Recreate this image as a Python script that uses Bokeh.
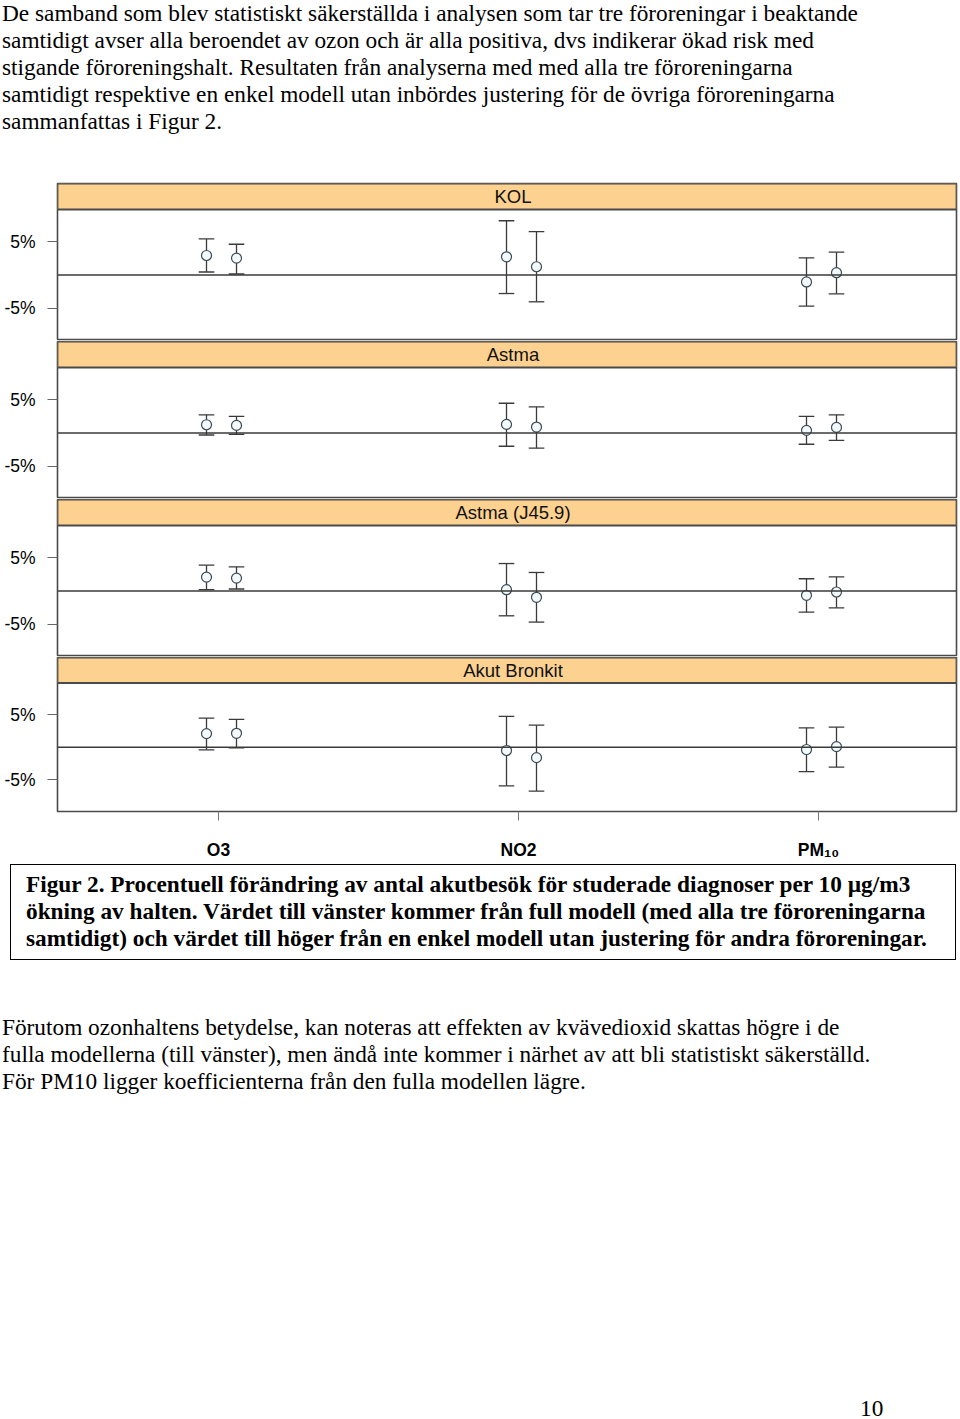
from bokeh.plotting import figure
from bokeh.models import ColumnDataSource, FixedTicker, Span, Div, Range1d
from bokeh.layouts import column
from bokeh.core.properties import value
from bokeh.embed import file_html
from bokeh.resources import INLINE

# ---------------- data ----------------
categories = ["O3", "NO2", "PM10"]
cat_labels = {1: "O3", 2: "NO2", 3: "PM\u2081\u2080"}
diagnoses = ["KOL", "Astma", "Astma (J45.9)", "Akut Bronkit"]

# full model (left point) : estimate, lower, upper  (% per 10 ug/m3)
kol_full_est = [2.95, 2.75, -1.05]
kol_full_lo = [0.45, -2.8, -4.7]
kol_full_hi = [5.45, 8.2, 2.6]
kol_simple_est = [2.55, 1.25, 0.35]
kol_simple_lo = [0.15, -4.05, -2.85]
kol_simple_hi = [4.65, 6.55, 3.45]

astma_full_est = [1.25, 1.3, 0.4]
astma_full_lo = [-0.3, -2.0, -1.7]
astma_full_hi = [2.75, 4.5, 2.5]
astma_simple_est = [1.15, 0.9, 0.85]
astma_simple_lo = [-0.2, -2.3, -1.1]
astma_simple_hi = [2.5, 3.95, 2.75]

j459_full_est = [2.1, 0.2, -0.65]
j459_full_lo = [0.2, -3.75, -3.2]
j459_full_hi = [3.9, 4.15, 1.85]
j459_simple_est = [1.95, -0.95, -0.15]
j459_simple_lo = [0.3, -4.7, -2.55]
j459_simple_hi = [3.65, 2.8, 2.15]

bronk_full_est = [2.1, -0.5, -0.35]
bronk_full_lo = [-0.4, -5.95, -3.75]
bronk_full_hi = [4.5, 4.75, 3.0]
bronk_simple_est = [2.15, -1.6, 0.1]
bronk_simple_lo = [-0.1, -6.75, -3.05]
bronk_simple_hi = [4.3, 3.4, 3.1]

panels = [
    ("KOL", kol_full_est, kol_full_lo, kol_full_hi, kol_simple_est, kol_simple_lo, kol_simple_hi),
    ("Astma", astma_full_est, astma_full_lo, astma_full_hi, astma_simple_est, astma_simple_lo, astma_simple_hi),
    ("Astma (J45.9)", j459_full_est, j459_full_lo, j459_full_hi, j459_simple_est, j459_simple_lo, j459_simple_hi),
    ("Akut Bronkit", bronk_full_est, bronk_full_lo, bronk_full_hi, bronk_simple_est, bronk_simple_lo, bronk_simple_hi),
]

top_text = ("De samband som blev statistiskt säkerställda i analysen som tar tre föroreningar i beaktande<br>"
            "samtidigt avser alla beroendet av ozon och är alla positiva, dvs indikerar ökad risk med<br>"
            "stigande föroreningshalt. Resultaten från analyserna med med alla tre föroreningarna<br>"
            "samtidigt respektive en enkel modell utan inbördes justering för de övriga föroreningarna<br>"
            "sammanfattas i Figur 2.")
caption_text = ("Figur 2. Procentuell förändring av antal akutbesök för studerade diagnoser per 10 µg/m3<br>"
                "ökning av halten. Värdet till vänster kommer från full modell (med alla tre föroreningarna<br>"
                "samtidigt) och värdet till höger från en enkel modell utan justering för andra föroreningar.")
bottom_text = ("Förutom ozonhaltens betydelse, kan noteras att effekten av kvävedioxid skattas högre i de<br>"
               "fulla modellerna (till vänster), men ändå inte kommer i närhet av att bli statistiskt säkerställd.<br>"
               "För PM10 ligger koefficienterna från den fulla modellen lägre.")
page_number = "10"

# ---------------- styling / layout constants ----------------
SANS = "Liberation Sans"
SERIF = "Liberation Serif"
BODY_PX = "23.3px"
X0, X1 = 0.4633, 3.46
OFF_FULL, OFF_SIMPLE = -0.04, 0.06
CAP = 0.026
Y_LO, Y_HI = -9.9, 9.9
DATA_PX = 131.0
STRIP_PX = 26.0
STRIP_TOP = Y_HI + STRIP_PX * (Y_HI - Y_LO) / DATA_PX
STRIP_FILL = "#FDD190"
EDGE = "#4a4a4a"
LINE = "#3a3a3a"

base_x = [1, 2, 3]

figs = []
for i, (name, fe, fl, fh, se, sl, sh) in enumerate(panels):
    last = i == len(panels) - 1
    h = 206 if last else 158
    p = figure(width=960, height=h, output_backend="svg", toolbar_location=None,
               x_range=Range1d(X0, X1), y_range=Range1d(Y_LO, STRIP_TOP),
               x_axis_location="below" if last else None,
               min_border_left=57, min_border_right=4, min_border_top=1, min_border_bottom=0,
               background_fill_color="white", border_fill_color="white")
    p.grid.visible = False
    p.outline_line_color = EDGE
    p.outline_line_width = 1.6

    # strip
    p.quad(left=[X0], right=[X1], bottom=[Y_HI], top=[STRIP_TOP],
           fill_color=STRIP_FILL, line_color=EDGE, line_width=1.8)
    p.text(x=[(X0 + X1) / 2 + 0.02], y=[(Y_HI + STRIP_TOP) / 2], text=[name],
           text_align="center", text_baseline="middle",
           text_font=value(SANS), text_font_size="18.5px", text_color="#111111")

    # zero line
    p.add_layout(Span(location=0, dimension="width", line_color=LINE, line_width=1.3))

    xs_f = [b + OFF_FULL for b in base_x]
    xs_s = [b + OFF_SIMPLE for b in base_x]
    src = ColumnDataSource(dict(
        x=xs_f + xs_s,
        est=list(fe) + list(se),
        lo=list(fl) + list(sl),
        hi=list(fh) + list(sh),
        cl=[x - CAP for x in xs_f + xs_s],
        cr=[x + CAP for x in xs_f + xs_s],
    ))
    p.segment(x0="x", y0="lo", x1="x", y1="hi", source=src, line_color=LINE, line_width=1.3)
    p.segment(x0="cl", y0="lo", x1="cr", y1="lo", source=src, line_color=LINE, line_width=1.3)
    p.segment(x0="cl", y0="hi", x1="cr", y1="hi", source=src, line_color=LINE, line_width=1.3)
    p.scatter(x="x", y="est", source=src, marker="circle", size=10,
              fill_color="#F4FAFB", line_color="#3A4A58", line_width=1.2)

    # y axis
    ya = p.yaxis[0]
    ya.ticker = FixedTicker(ticks=[-5, 5])
    ya.major_label_overrides = {-5: "-5%", 5: "5%"}
    ya.axis_line_color = None
    ya.major_tick_in = 0
    ya.major_tick_out = 10
    ya.major_tick_line_color = "#666666"
    ya.major_tick_line_width = 1.2
    ya.minor_tick_line_color = None
    ya.major_label_text_font = SANS
    ya.major_label_text_font_size = "17.5px"
    ya.major_label_text_color = "#000000"
    ya.major_label_standoff = 12

    if last:
        xa = p.xaxis[0]
        xa.ticker = FixedTicker(ticks=base_x)
        xa.major_label_overrides = cat_labels
        xa.axis_line_color = None
        xa.major_tick_in = 0
        xa.major_tick_out = 9
        xa.major_tick_line_color = "#777777"
        xa.minor_tick_line_color = None
        xa.major_label_text_font = SANS
        xa.major_label_text_font_size = "17.5px"
        xa.major_label_text_font_style = "bold"
        xa.major_label_text_color = "#000000"
        xa.major_label_standoff = 19
    figs.append(p)

top_div = Div(width=960, height=182, margin=(0, 0, 0, 0), text=(
    f'<div style="font-family:\'{SERIF}\';font-size:{BODY_PX};line-height:27px;color:#000;'
    f'position:relative;top:0px;left:2px;white-space:nowrap;">{top_text}</div>'))

cap_div = Div(width=960, height=98, margin=(0, 0, 0, 0), text=(
    f'<div style="margin-top:2px;margin-left:10px;width:946px;height:96px;box-sizing:border-box;'
    f'border:1.5px solid #000;padding:6px 0 0 15px;font-family:\'{SERIF}\';font-weight:bold;'
    f'font-size:{BODY_PX};line-height:27px;color:#000;white-space:nowrap;">{caption_text}</div>'))

bottom_div = Div(width=960, height=458, margin=(0, 0, 0, 0), text=(
    f'<div style="position:relative;width:960px;height:458px;font-family:\'{SERIF}\';font-size:{BODY_PX};'
    f'line-height:27px;color:#000;">'
    f'<div style="position:absolute;top:54px;left:2px;white-space:nowrap;">{bottom_text}</div>'
    f'<div style="position:absolute;top:435px;left:860px;">{page_number}</div></div>'))

layout = column([top_div] + figs + [cap_div, bottom_div], spacing=0)

open("out.html", "w").write(file_html(layout, INLINE))
